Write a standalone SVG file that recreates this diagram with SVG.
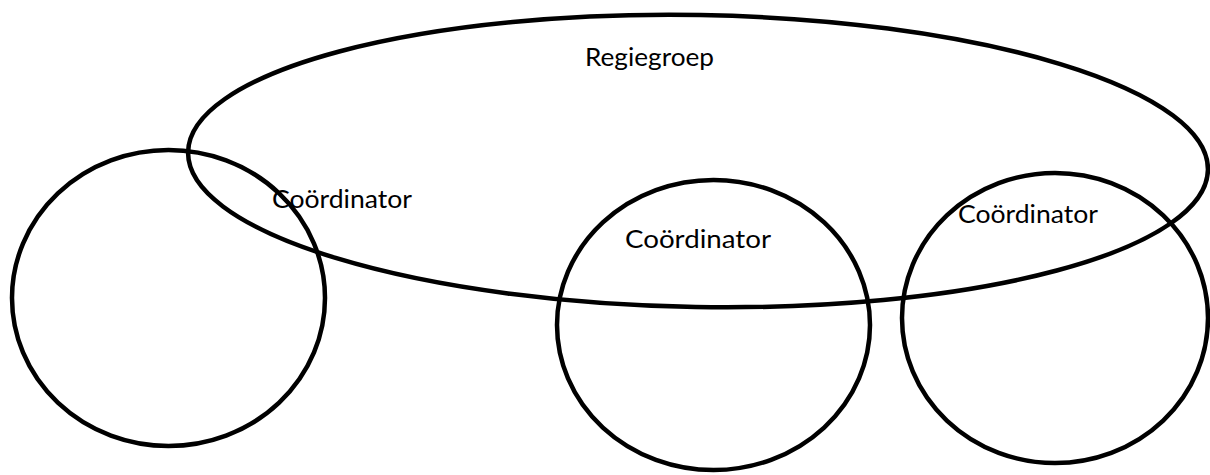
<svg xmlns="http://www.w3.org/2000/svg" width="1210" height="475" viewBox="0 0 1210 475">
<style>
.shape{fill:none;stroke:#000;stroke-width:4.5}
.lbl{font-family:"Lato","Open Sans",sans-serif;font-size:25px;fill:#000}
</style>
<rect width="1210" height="475" fill="#fff"/>
<g id="regiegroep">
<ellipse class="shape" cx="698" cy="161" rx="510" ry="146" transform="rotate(1 698 161)"/>
<text class="lbl" x="585" y="66" textLength="129" lengthAdjust="spacingAndGlyphs">Regiegroep</text>
</g>
<g id="coordinator1">
<ellipse class="shape" cx="168.5" cy="298" rx="156.5" ry="148"/>
<text class="lbl" x="272" y="208" textLength="140" lengthAdjust="spacingAndGlyphs">Coördinator</text>
</g>
<g id="coordinator2">
<ellipse class="shape" cx="713.5" cy="325" rx="156.5" ry="145"/>
<text class="lbl" x="625" y="248" textLength="146" lengthAdjust="spacingAndGlyphs">Coördinator</text>
</g>
<g id="coordinator3">
<ellipse class="shape" cx="1055" cy="318" rx="153" ry="145"/>
<text class="lbl" x="958" y="223" textLength="140" lengthAdjust="spacingAndGlyphs">Coördinator</text>
</g>
<g id="connectors"></g>
</svg>
